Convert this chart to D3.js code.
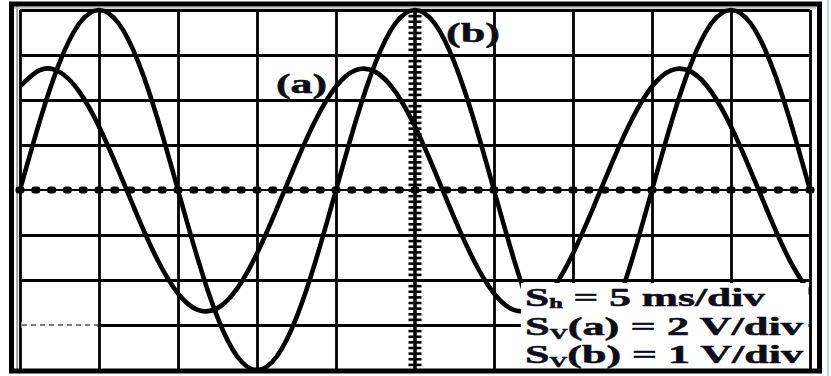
<!DOCTYPE html>
<html>
<head>
<meta charset="utf-8">
<script src="https://cdn.jsdelivr.net/npm/d3@7"></script>
<style>
  html, body { margin: 0; padding: 0; background: #fff; }
  svg { display: block; }
  text { font-family: "Liberation Serif"; font-weight: 700; fill: #0d0d18; stroke: #0d0d18; stroke-width: 0.5px; }
</style>
</head>
<body>
<svg id="scope" width="831" height="376"></svg>
<script>
// Sample times across the 10 horizontal divisions (5 ms/div), in ms
const timeMs = [0, 1.25, 2.5, 3.75, 5, 6.25, 7.5, 8.75, 10, 11.25, 12.5, 13.75, 15, 16.25, 17.5, 18.75,
  20, 21.25, 22.5, 23.75, 25, 26.25, 27.5, 28.75, 30, 31.25, 32.5, 33.75, 35, 36.25, 37.5, 38.75,
  40, 41.25, 42.5, 43.75, 45, 46.25, 47.5, 48.75, 50];

// Trace (a), volts (2 V/div)
const voltsA = [4.60, 5.33, 5.25, 4.37, 2.82, 0.84, -1.26, -3.17, -4.60, -5.33, -5.25, -4.37, -2.82, -0.84, 1.26, 3.17,
  4.60, 5.33, 5.25, 4.37, 2.82, 0.84, -1.26, -3.17, -4.60, -5.33, -5.25, -4.37, -2.82, -0.84, 1.26, 3.17,
  4.60, 5.33, 5.25, 4.37, 2.82, 0.84, -1.26, -3.17, -4.60];

// Trace (b), volts (1 V/div)
const voltsB = [0, 1.53, 2.83, 3.70, 4.00, 3.70, 2.83, 1.53, 0, -1.53, -2.83, -3.70, -4.00, -3.70, -2.83, -1.53,
  0, 1.53, 2.83, 3.70, 4.00, 3.70, 2.83, 1.53, 0, -1.53, -2.83, -3.70, -4.00, -3.70, -2.83, -1.53,
  0, 1.53, 2.83, 3.70, 4.00, 3.70, 2.83, 1.53, 0];

// Graticule divisions
const timeDivTicks = [0, 5, 10, 15, 20, 25, 30, 35, 40, 45, 50];
const vertDivTicks = [-4, -3, -2, -1, 0, 1, 2, 3, 4];

const scaleLines = [
  { main: "S", sub: "h", rest: " = 5 ms/div", len: 240 },
  { main: "S", sub: "V", rest: "(a) = 2 V/div", len: 278 },
  { main: "S", sub: "V", rest: "(b) = 1 V/div", len: 278 }
];

const svg = d3.select("#scope");
const gLeft = 20, gRight = 810, gTop = 10, gBottom = 370;

const x = d3.scaleLinear().domain([0, 50]).range([gLeft, gRight]);
const yDiv = d3.scaleLinear().domain([-4, 4]).range([gBottom, gTop]);
const yA = d3.scaleLinear().domain([-8, 8]).range([gBottom, gTop]);
const yB = d3.scaleLinear().domain([-4, 4]).range([gBottom, gTop]);

svg.append("rect").attr("width", 831).attr("height", 376).attr("fill", "#fff");

// Faint edge lines of the screen
svg.append("line").attr("x1", 17.2).attr("x2", 17.2).attr("y1", 6).attr("y2", 369)
  .attr("stroke", "#a0a0a0").attr("stroke-width", 2);
svg.append("line").attr("x1", 14).attr("x2", 816).attr("y1", 7.8).attr("y2", 7.8)
  .attr("stroke", "#b0b0b0").attr("stroke-width", 1.2);
svg.append("line").attr("x1", 828).attr("x2", 828).attr("y1", 0).attr("y2", 376)
  .attr("stroke", "#c9d0d8").attr("stroke-width", 2);

// Graticule
const gridX = svg.append("g").attr("transform", `translate(0,${gBottom})`)
  .call(d3.axisBottom(x).tickValues(timeDivTicks).tickSize(-(gBottom - gTop)).tickFormat(""));
const gridY = svg.append("g").attr("transform", `translate(${gLeft},0)`)
  .call(d3.axisLeft(yDiv).tickValues(vertDivTicks.filter(d => d !== 0)).tickSize(-(gRight - gLeft)).tickFormat(""));
[gridX, gridY].forEach(g => {
  g.select(".domain").remove();
  g.selectAll(".tick line").attr("stroke", "#000").attr("stroke-width", 2.8);
});
gridX.selectAll(".tick").filter(d => d === 25).remove();

// Faded segment of the lowest grid row near the left edge
svg.append("rect").attr("x", gLeft + 1.5).attr("y", yDiv(-3) - 3).attr("width", x(5) - gLeft - 3).attr("height", 6)
  .attr("fill", "#fff");
svg.append("line").attr("x1", gLeft + 2).attr("x2", x(5) - 2).attr("y1", yDiv(-3)).attr("y2", yDiv(-3))
  .attr("stroke", "#555").attr("stroke-width", 1.6).attr("stroke-dasharray", "5 4");

// Centre vertical axis with minor ticks
const minorV = d3.range(-32, 33).map(i => i / 8);
svg.append("line").attr("x1", x(25)).attr("x2", x(25)).attr("y1", gTop).attr("y2", gBottom)
  .attr("stroke", "#000").attr("stroke-width", 3.5);
[d3.axisLeft, d3.axisRight].forEach(ax => {
  const g = svg.append("g").attr("transform", `translate(${x(25)},0)`)
    .call(ax(yDiv).tickValues(minorV).tickSize(6.5).tickFormat(""));
  g.select(".domain").remove();
  g.selectAll(".tick line").attr("stroke", "#000").attr("stroke-width", 2.6);
});

// Centre horizontal axis with minor dots
const minorH = d3.range(0, 51).map(i => i);
svg.append("line").attr("x1", gLeft).attr("x2", gRight).attr("y1", yDiv(0)).attr("y2", yDiv(0))
  .attr("stroke", "#000").attr("stroke-width", 2.2);
svg.append("g").selectAll("rect").data(minorH).join("rect")
  .attr("x", d => x(d) - 4.5).attr("y", yDiv(0) - 3.6)
  .attr("width", 9).attr("height", 7.2).attr("rx", 3).attr("fill", "#000");

// Traces
svg.append("clipPath").attr("id", "screen").append("rect")
  .attr("x", gLeft).attr("y", gTop - 3).attr("width", gRight - gLeft).attr("height", gBottom - gTop + 6);

const traceA = timeMs.map((t, i) => [t, voltsA[i]]);
const traceB = timeMs.map((t, i) => [t, voltsB[i]]);
const lineA = d3.line().x(d => x(d[0])).y(d => yA(d[1])).curve(d3.curveNatural);
const lineB = d3.line().x(d => x(d[0])).y(d => yB(d[1])).curve(d3.curveNatural);

const traces = svg.append("g").attr("clip-path", "url(#screen)");
traces.append("path").datum(traceA).attr("d", lineA)
  .attr("fill", "none").attr("stroke", "#000").attr("stroke-width", 4.6);
traces.append("path").datum(traceB).attr("d", lineB)
  .attr("fill", "none").attr("stroke", "#000").attr("stroke-width", 4.6);

// Trace labels
svg.append("text").attr("x", 276).attr("y", 93).attr("font-size", 28)
  .attr("textLength", 51).attr("lengthAdjust", "spacingAndGlyphs").text("(a)");
svg.append("text").attr("x", 446).attr("y", 42).attr("font-size", 28)
  .attr("textLength", 54).attr("lengthAdjust", "spacingAndGlyphs").text("(b)");

// Scale-settings box
svg.append("rect").attr("x", 521).attr("y", 283).attr("width", 287.5).attr("height", 86).attr("fill", "#fff");
const baselines = [306, 335, 363];
scaleLines.forEach((s, i) => {
  const t = svg.append("text").attr("x", 525).attr("y", baselines[i]).attr("font-size", 25)
    .attr("textLength", s.len).attr("lengthAdjust", "spacingAndGlyphs");
  t.append("tspan").text(s.main);
  t.append("tspan").attr("font-size", 14).attr("dy", i === 0 ? 2 : 4).text(s.sub);
  t.append("tspan").attr("dy", i === 0 ? -2 : -4).text(s.rest);
});

// Outer bezel
svg.append("rect").attr("x", 11.5).attr("y", 4).attr("width", 808).attr("height", 367)
  .attr("fill", "none").attr("stroke", "#000").attr("stroke-width", 5);
</script>
</body>
</html>
